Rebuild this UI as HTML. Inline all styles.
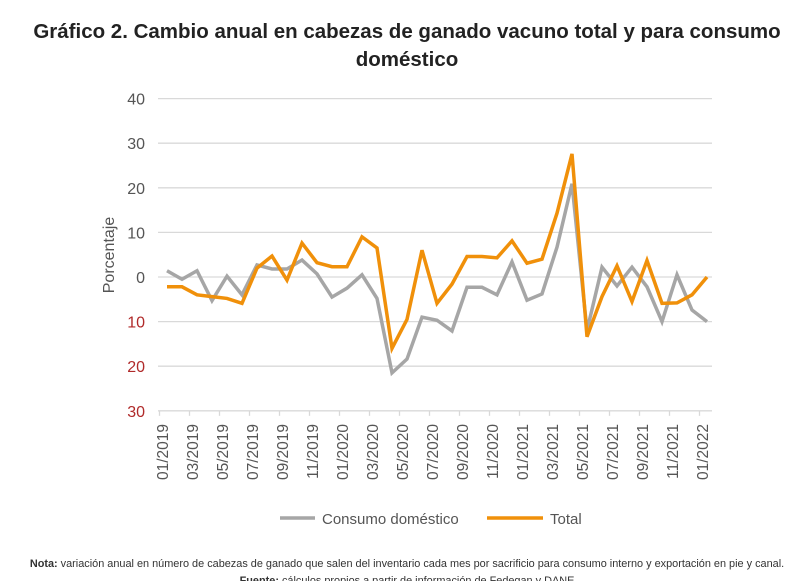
<!DOCTYPE html>
<html><head><meta charset="utf-8"><style>
body{margin:0;background:#fff;width:811px;height:581px;overflow:hidden;font-family:"Liberation Sans",Arial,sans-serif}
</style></head><body>
<svg width="811" height="581" id="c">
<text x="407" y="38" text-anchor="middle" font-size="20.5" font-weight="bold" fill="#222">Gráfico 2. Cambio anual en cabezas de ganado vacuno total y para consumo</text>
<text x="407" y="66" text-anchor="middle" font-size="20.5" font-weight="bold" fill="#222">doméstico</text>
<text transform="translate(114,255) rotate(-90)" text-anchor="middle" font-size="16" fill="#555">Porcentaje</text>
<g id="grid"></g><g id="ylab"></g><g id="xlab"></g><g id="lines"></g>
<g>
<line x1="280" y1="518" x2="315" y2="518" stroke="#a6a6a6" stroke-width="3.5"/>
<text x="322" y="524" font-size="15" fill="#555">Consumo doméstico</text>
<line x1="487" y1="518" x2="543" y2="518" stroke="#f0900a" stroke-width="3.5"/>
<text x="550" y="524" font-size="15" fill="#555">Total</text>
</g>
<text x="407" y="567" text-anchor="middle" font-size="10.9" fill="#333"><tspan font-weight="bold">Nota:</tspan> variación anual en número de cabezas de ganado que salen del inventario cada mes por sacrificio para consumo interno y exportación en pie y canal.</text>
<text x="407" y="584" text-anchor="middle" font-size="10.9" fill="#333"><tspan font-weight="bold">Fuente:</tspan> cálculos propios a partir de información de Fedegan y DANE</text>
</svg>
<script>
const months=["01/2019","02/2019","03/2019","04/2019","05/2019","06/2019","07/2019","08/2019","09/2019","10/2019","11/2019","12/2019","01/2020","02/2020","03/2020","04/2020","05/2020","06/2020","07/2020","08/2020","09/2020","10/2020","11/2020","12/2020","01/2021","02/2021","03/2021","04/2021","05/2021","06/2021","07/2021","08/2021","09/2021","10/2021","11/2021","12/2021","01/2022"];
const consumo=[1.4,-0.5,1.4,-5.3,0.2,-4,2.7,1.8,1.8,3.8,0.7,-4.5,-2.5,0.5,-4.8,-21.5,-18.4,-9,-9.7,-12.1,-2.3,-2.3,-4,3.4,-5.2,-3.8,6.7,20.9,-12,2.2,-2,2.2,-2.2,-10,0.5,-7.4,-10];
const total=[-2.2,-2.2,-4,-4.4,-4.8,-5.9,2,4.7,-0.7,7.6,3.2,2.3,2.3,9,6.5,-16,-9.5,6,-5.9,-1.6,4.6,4.6,4.3,8.1,3.1,4,14.3,27.6,-13.4,-4.4,2.5,-5.5,3.7,-5.9,-5.8,-4,0];
const yTicks=[40,30,20,10,0,-10,-20,-30];
const NS="http://www.w3.org/2000/svg";
const X0=167,DX=15,Y0=277,K=4.46;
const xs=i=>X0+i*DX, ys=v=>Y0-v*K;
function mk(t,a,p){const e=document.createElementNS(NS,t);for(const k in a)e.setAttribute(k,a[k]);p.appendChild(e);return e;}
const g=document.getElementById('grid'),yl=document.getElementById('ylab'),xl=document.getElementById('xlab'),ln=document.getElementById('lines');
yTicks.forEach(v=>{
 const l=mk('line',{x1:158,x2:712,y1:ys(v),y2:ys(v),stroke:'#d9d9d9','stroke-width':1.3},g);
 
 
 const t=mk('text',{x:145,y:ys(v)+6,'text-anchor':'end','font-size':16,fill:v<0?'#b02a2a':'#555'},yl);
 t.textContent=Math.abs(v);
 
 
});
months.forEach((m,i)=>{
 if(i%2)return;
 const tk=mk('line',{x1:xs(i)-7.5,x2:xs(i)-7.5,y1:ys(-30),y2:ys(-30)+5,stroke:'#d9d9d9','stroke-width':1.3},g);
 
 
 const t=mk('text',{transform:`translate(${xs(i)+1},424) rotate(-90)`,'text-anchor':'end','font-size':15.5,fill:'#555'},xl);
 t.textContent=m;
 
 
});
function series(d,c,n){
 const p=mk('polyline',{points:d.map((v,i)=>xs(i)+','+ys(v)).join(' '),fill:'none',stroke:c,'stroke-width':3.5,'stroke-linejoin':'miter'},ln);
 
 
}
series(consumo,'#a6a6a6','consumo-line');
series(total,'#f0900a','total-line');
</script>
</body></html>
